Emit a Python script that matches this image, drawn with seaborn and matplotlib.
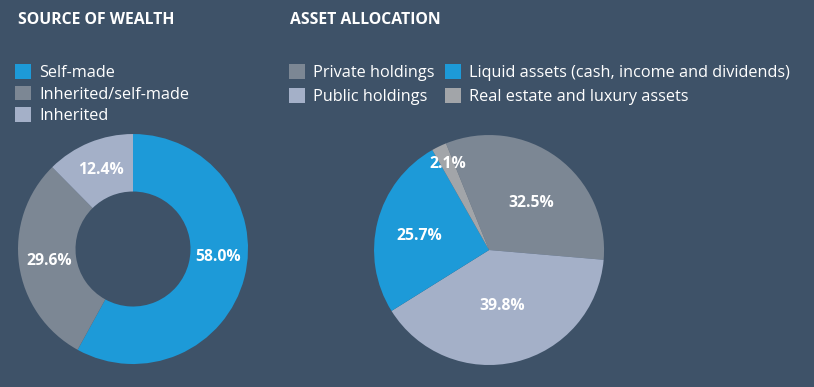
import matplotlib
matplotlib.use("Agg")
import matplotlib.pyplot as plt
from matplotlib.patches import Patch
import numpy as np
import seaborn as sns

sns.set_theme(style="white")
plt.rcParams['font.family'] = ['Open Sans', 'DejaVu Sans']

# data
wealth_labels = ["Self-made", "Inherited/self-made", "Inherited"]
wealth_values = [58.0, 29.6, 12.4]

asset_labels = ["Private holdings", "Public holdings",
                "Liquid assets (cash, income and dividends)",
                "Real estate and luxury assets"]
asset_values = [32.5, 39.8, 25.7, 2.1]

bg = "#3e5268"
blue = "#1d9ad8"
grey = "#7c8794"
light = "#a4b0c8"
stone = "#a2a5a9"

wealth_colors = [blue, grey, light]
asset_colors = [grey, light, blue, stone]

pct_font = dict(color="white", fontsize=11.3, fontweight="bold")

fig = plt.figure(figsize=(8.14, 3.87), dpi=100, facecolor=bg)

# donut
ax1 = fig.add_axes([0.0221, 0.0594, 0.2826, 0.5943])
ax1.set_facecolor(bg)
wedges, texts, autotexts = ax1.pie(
    wealth_values, colors=wealth_colors, startangle=90, counterclock=False,
    radius=1.0, wedgeprops=dict(width=0.5, linewidth=0),
    autopct="%.1f%%", pctdistance=0.74, textprops=pct_font)
# the big slice label sits a bit higher than its midpoint
x, y = autotexts[0].get_position()
ang = np.arctan2(y, x) + np.deg2rad(9)
autotexts[0].set_position((0.74 * np.cos(ang), 0.74 * np.sin(ang)))
ax1.set_xlim(-1, 1)
ax1.set_ylim(-1, 1)
ax1.set_aspect("equal")
ax1.axis("off")

# pie
ax2 = fig.add_axes([0.4595, 0.0568, 0.2826, 0.5943])
ax2.set_facecolor(bg)
wedges2, texts2, autotexts2 = ax2.pie(
    asset_values, colors=asset_colors, startangle=112, counterclock=False,
    radius=1.0, wedgeprops=dict(linewidth=0),
    autopct="%.1f%%", pctdistance=0.58, textprops=pct_font)
label_r = [0.55, 0.5, 0.62, 0.83]
label_turn = [-6, 0, 3, 0]
for t, r, a in zip(autotexts2, label_r, label_turn):
    x, y = t.get_position()
    ang = np.arctan2(y, x) + np.deg2rad(a)
    t.set_position((r * np.cos(ang), r * np.sin(ang)))
ax2.set_xlim(-1, 1)
ax2.set_ylim(-1, 1)
ax2.set_aspect("equal")
ax2.axis("off")

# titles
fig.text(18 / 814, 1 - 20 / 387, "SOURCE OF WEALTH", color="white",
         fontsize=11.3, fontweight="bold", va="center", ha="left")
fig.text(290 / 814, 1 - 20 / 387, "ASSET ALLOCATION", color="white",
         fontsize=11.3, fontweight="bold", va="center", ha="left")

# legends
h1 = [Patch(facecolor=c, edgecolor="none") for c in wealth_colors]
fig.legend(h1, wealth_labels, loc="upper left",
           bbox_to_anchor=(15 / 814, 1 - 64 / 387), frameon=False,
           fontsize=11.7, labelcolor="white", handlelength=1.0,
           handleheight=1.0, handletextpad=0.5, labelspacing=0.3,
           borderpad=0, borderaxespad=0)

h2 = [Patch(facecolor=c, edgecolor="none") for c in asset_colors]
fig.legend(h2, asset_labels, loc="upper left", ncol=2,
           bbox_to_anchor=(289 / 814, 1 - 64 / 387), frameon=False,
           fontsize=11.7, labelcolor="white", handlelength=1.0,
           handleheight=1.0, handletextpad=0.5, labelspacing=0.45,
           columnspacing=0.6, borderpad=0, borderaxespad=0)

plt.savefig("out.png", dpi=100, facecolor=bg)
